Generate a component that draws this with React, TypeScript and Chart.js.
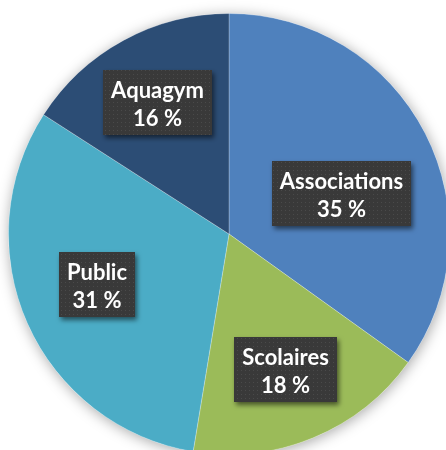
import React, { useEffect, useRef } from "react";
import { Chart, registerables } from "chart.js";

Chart.register(...registerables);

const categories = ["Associations", "Scolaires", "Public", "Aquagym"];
const values = [34.9, 17.7, 31.5, 15.9];
const percentLabels = ["35 %", "18 %", "31 %", "16 %"];
const colors = ["#4F81BD", "#9BBB59", "#4BACC6", "#2C4D75"];

// label placement: fraction along the arc's angle span, and fraction of radius
const labelAngleFrac = [0.56, 0.5, 0.525, 0.5];
const labelRadiusFrac = [0.54, 0.665, 0.64, 0.68];

const FONT = 'bold 22px Lato, "Open Sans", sans-serif';

const shadowPlugin = {
  id: "pieShadow",
  beforeDatasetsDraw(chart: any) {
    const meta = chart.getDatasetMeta(0);
    const arc = meta.data[0];
    if (!arc) return;
    const { x, y, outerRadius } = arc.getProps(["x", "y", "outerRadius"], true);
    const ctx = chart.ctx;
    ctx.save();
    ctx.shadowColor = "rgba(0,0,0,0.35)";
    ctx.shadowBlur = 14;
    ctx.shadowOffsetX = 1;
    ctx.shadowOffsetY = 2;
    ctx.fillStyle = "#ffffff";
    ctx.beginPath();
    ctx.arc(x, y, outerRadius, 0, Math.PI * 2);
    ctx.fill();
    ctx.restore();
  },
};

const labelPlugin = {
  id: "boxLabels",
  afterDatasetsDraw(chart: any) {
    const ctx = chart.ctx;
    const meta = chart.getDatasetMeta(0);
    const pc = document.createElement("canvas");
    pc.width = 4;
    pc.height = 4;
    const pctx = pc.getContext("2d")!;
    pctx.fillStyle = "#393939";
    pctx.fillRect(0, 0, 4, 4);
    pctx.fillStyle = "#4a4a4a";
    pctx.fillRect(1, 1, 1, 1);
    const pattern = ctx.createPattern(pc, "repeat");

    meta.data.forEach((arc: any, i: number) => {
      const { x, y, startAngle, endAngle, outerRadius } = arc.getProps(
        ["x", "y", "startAngle", "endAngle", "outerRadius"],
        true
      );
      const a = startAngle + (endAngle - startAngle) * labelAngleFrac[i];
      const r = outerRadius * labelRadiusFrac[i];
      const cx = x + Math.cos(a) * r;
      const cy = y + Math.sin(a) * r;
      ctx.save();
      ctx.font = FONT;
      const l1 = categories[i];
      const l2 = percentLabels[i];
      const w = Math.round(Math.max(ctx.measureText(l1).width, ctx.measureText(l2).width) + 16);
      const h = 65;
      const bx = Math.round(cx - w / 2);
      const by = Math.round(cy - h / 2);
      ctx.shadowColor = "rgba(0,0,0,0.55)";
      ctx.shadowBlur = 5;
      ctx.shadowOffsetX = 2;
      ctx.shadowOffsetY = 3;
      ctx.fillStyle = pattern || "#3a3a3a";
      ctx.fillRect(bx, by, w, h);
      ctx.shadowColor = "transparent";
      ctx.fillStyle = "#ffffff";
      ctx.textAlign = "center";
      ctx.textBaseline = "alphabetic";
      ctx.fillText(l1, bx + w / 2, by + 28);
      ctx.fillText(l2, bx + w / 2, by + 56);
      ctx.restore();
    });
  },
};

export default function App() {
  const ref = useRef<HTMLCanvasElement>(null);
  useEffect(() => {
    document.body.style.margin = "0";
    const chart = new Chart(ref.current!, {
      type: "pie",
      data: {
        labels: categories,
        datasets: [
          {
            data: values,
            backgroundColor: colors,
            borderWidth: 1,
            borderColor: "rgba(255,255,255,0.25)",
          },
        ],
      },
      options: {
        animation: false,
        responsive: false,
        maintainAspectRatio: false,
        layout: { padding: 20 },
        plugins: {
          legend: { display: false },
          tooltip: { enabled: false },
        },
      },
      plugins: [shadowPlugin, labelPlugin],
    });
    return () => chart.destroy();
  }, []);
  return (
    <div
      style={{
        position: "fixed",
        left: 0,
        top: 0,
        width: 446,
        height: 450,
        overflow: "hidden",
        background: "#ffffff",
      }}
    >
      <canvas
        ref={ref}
        width={482}
        height={482}
        style={{ position: "absolute", left: -12, top: -7, width: 482, height: 482 }}
      />
    </div>
  );
}
